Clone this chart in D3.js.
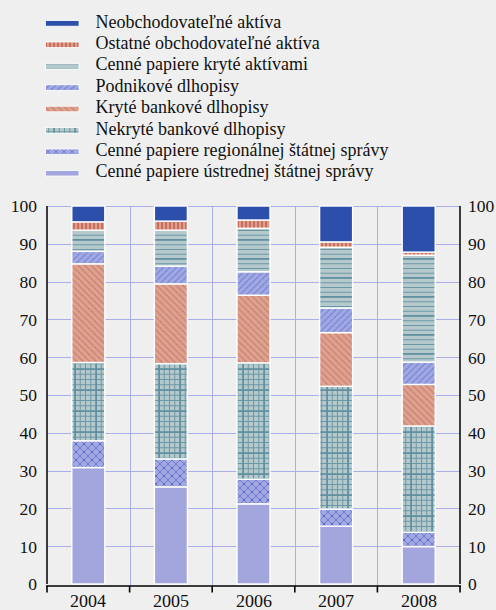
<!DOCTYPE html>
<html>
<head>
<meta charset="utf-8">
<script src="https://cdn.jsdelivr.net/npm/d3@7"></script>
<style>
  @font-face { font-family: "ChartSerif"; src: local("Liberation Serif"), local("LiberationSerif"), local("Liberation Serif Regular"); }
  html, body { margin: 0; padding: 0; background: #efefef; }
  svg { display: block; }
  .yr { font-family: "ChartSerif", "Liberation Serif"; }
</style>
</head>
<body>
<svg id="chart" width="496" height="610"></svg>
<script>
// Years on the x axis
const years = ["2004", "2005", "2006", "2007", "2008"];

// Share of each asset type (%) per year, listed bottom-to-top in the stack
const ustredna   = [30.8, 25.7, 21.2, 15.3, 9.9];
const regionalna = [7.1, 7.4, 6.5, 4.5, 3.8];
const nekryte    = [20.7, 25.2, 30.8, 32.5, 28.1];
const kryte      = [26.1, 21.1, 17.9, 14.2, 11.0];
const podnikove  = [3.3, 4.7, 6.2, 6.5, 5.9];
const krytAktiva = [5.6, 9.5, 11.5, 16.1, 28.3];
const ostatne    = [2.2, 2.4, 2.2, 1.4, 0.8];
const neobch     = [4.2, 4.0, 3.7, 9.5, 12.2];

// Series names, in legend order (top to bottom)
const seriesNames = [
  "Neobchodovateľné aktíva",
  "Ostatné obchodovateľné aktíva",
  "Cenné papiere kryté aktívami",
  "Podnikové dlhopisy",
  "Kryté bankové dlhopisy",
  "Nekryté bankové dlhopisy",
  "Cenné papiere regionálnej štátnej správy",
  "Cenné papiere ústrednej štátnej správy"
];

const yTicks = [0, 10, 20, 30, 40, 50, 60, 70, 80, 90, 100];

// Stack order, bottom first
const keys = ["ustr", "reg", "nekr", "kryt", "podn", "cka", "ost", "neob"];
const seriesValues = {
  ustr: ustredna, reg: regionalna, nekr: nekryte, kryt: kryte,
  podn: podnikove, cka: krytAktiva, ost: ostatne, neob: neobch
};
const legendKeys = ["neob", "ost", "cka", "podn", "kryt", "nekr", "reg", "ustr"];

const table = years.map((yr, i) => {
  const row = { year: yr };
  keys.forEach(k => row[k] = seriesValues[k][i]);
  return row;
});

const TEXT_COLOR = "#111";

const svg = d3.select("#chart");
const defs = svg.append("defs");

// ---- fill patterns ----
function pattern(id, w, h, base, transform) {
  const p = defs.append("pattern").attr("id", id)
    .attr("patternUnits", "userSpaceOnUse")
    .attr("width", w).attr("height", h);
  if (transform) p.attr("patternTransform", transform);
  p.append("rect").attr("width", w).attr("height", h).attr("fill", base);
  return p;
}

// solid fills
pattern("p-neob", 4, 4, "#2c4fab");
pattern("p-ustr", 4, 4, "#a3a6dc");

// vertical red stripes
pattern("p-ost", 4, 4, "#dca18d")
  .append("rect").attr("x", 1.5).attr("y", 0).attr("width", 1.1).attr("height", 4).attr("fill", "#b8463a");

// horizontal teal stripes with a heavier one
{
  const p = pattern("p-cka", 4, 19, "#b5c9cd");
  [2, 6.75, 16.25].forEach(y => p.append("rect").attr("x", 0).attr("y", y).attr("width", 4).attr("height", 1).attr("fill", "#6b98a5"));
  p.append("rect").attr("x", 0).attr("y", 11).attr("width", 4).attr("height", 1.8).attr("fill", "#6190a0");
}

// "/" diagonals
pattern("p-podn", 4.6, 4.6, "#a2a8e2", "rotate(45)")
  .append("line").attr("x1", 1).attr("y1", 0).attr("x2", 1).attr("y2", 4.6)
  .attr("stroke", "#4a64c8").attr("stroke-width", 0.9).attr("stroke-dasharray", "1.6,0.7");

// "\" diagonals, dotted red
pattern("p-kryt", 4.6, 4.6, "#dca390", "rotate(-45)")
  .append("line").attr("x1", 1).attr("y1", 0).attr("x2", 1).attr("y2", 4.6)
  .attr("stroke", "#c0504a").attr("stroke-width", 0.9).attr("stroke-dasharray", "1,0.6");

// teal grid with a heavier line
{
  const p = pattern("p-nekr", 21, 21, "#b5c9cd");
  [1, 6.25, 16.75].forEach(v => {
    p.append("rect").attr("x", v).attr("y", 0).attr("width", 1).attr("height", 21).attr("fill", "#6b98a5");
    p.append("rect").attr("x", 0).attr("y", v).attr("width", 21).attr("height", 1).attr("fill", "#6b98a5");
  });
  p.append("rect").attr("x", 11.2).attr("y", 0).attr("width", 1.8).attr("height", 21).attr("fill", "#6190a0");
  p.append("rect").attr("x", 0).attr("y", 11.2).attr("width", 21).attr("height", 1.8).attr("fill", "#6190a0");
}

// diamond crosshatch
{
  const p = pattern("p-reg", 8, 8, "#a3a8e0");
  p.append("path").attr("d", "M0,0 L8,8 M0,8 L8,0")
    .attr("stroke", "#6676d2").attr("stroke-width", 0.9).attr("fill", "none");
  p.append("circle").attr("cx", 4).attr("cy", 4).attr("r", 0.8).attr("fill", "#3a56c4");
}

const fillOf = k => `url(#p-${k})`;

// ---- scales ----
const x = d3.scaleBand().domain(years).range([47, 460]).paddingInner(0.6).paddingOuter(0.3);
const y = d3.scaleLinear().domain([0, 100]).range([584, 206]);
const step = x.step();
const boundaries = d3.range(years.length + 1).map(i => 47 + i * step);

// ---- grid ----
const grid = svg.append("g").attr("stroke", "#a9ade8").attr("stroke-width", 1);
grid.selectAll("line.h").data(yTicks.filter(t => t > 0)).join("line")
  .attr("x1", 47).attr("x2", 460)
  .attr("y1", d => Math.round(y(d)) + 0.5).attr("y2", d => Math.round(y(d)) + 0.5);
grid.selectAll("line.v").data(boundaries.slice(1, -1)).join("line")
  .attr("x1", d => Math.round(d) + 0.5).attr("x2", d => Math.round(d) + 0.5)
  .attr("y1", y(100)).attr("y2", y(0) + 2);

// ---- stacked bars ----
const stacked = d3.stack().keys(keys)(table);
svg.append("g").selectAll("g").data(stacked).join("g")
  .attr("fill", d => fillOf(d.key))
  .selectAll("rect").data(d => d).join("rect")
  .attr("x", d => x(d.data.year))
  .attr("width", x.bandwidth())
  .attr("y", d => y(d[1]))
  .attr("height", d => y(d[0]) - y(d[1]))
  .attr("stroke", "#ffffff").attr("stroke-width", 1.4);

// ---- axes ----
const axisColor = "#000";
svg.append("line").attr("x1", 47).attr("x2", 47).attr("y1", y(100)).attr("y2", y(0))
  .attr("stroke", axisColor).attr("stroke-width", 1.5);
svg.append("line").attr("x1", 460).attr("x2", 460).attr("y1", y(100)).attr("y2", y(0))
  .attr("stroke", axisColor).attr("stroke-width", 1.5);

// tick labels on both sides
const labelsL = svg.append("g").selectAll("text").data(yTicks).join("text")
  .attr("x", 37).attr("y", d => y(d)).attr("dy", "0.36em")
  .attr("text-anchor", "end");
const labelsR = svg.append("g").selectAll("text").data(yTicks).join("text")
  .attr("x", 468).attr("y", d => y(d)).attr("dy", "0.36em")
  .attr("text-anchor", "start");
[labelsL, labelsR].forEach(s => s
  .attr("font-family", "Liberation Serif").attr("font-size", 17.5)
  .attr("fill", TEXT_COLOR)
  .text(d => d));

// bottom axis: baseline with ticks on category boundaries
const xAxis = svg.append("g");
xAxis.append("line").attr("x1", 46).attr("x2", 461).attr("y1", 586).attr("y2", 586)
  .attr("stroke", axisColor).attr("stroke-width", 1.4);
xAxis.selectAll("line.tick").data(boundaries).join("line")
  .attr("x1", d => d).attr("x2", d => d).attr("y1", 586).attr("y2", 592.5)
  .attr("stroke", axisColor).attr("stroke-width", 1.6);
xAxis.selectAll("text").data(years).join("text")
  .attr("class", "yr")
  .attr("x", d => x(d) + x.bandwidth() / 2).attr("y", 606.5)
  .attr("text-anchor", "middle").attr("font-size", 17.5)
  .attr("fill", TEXT_COLOR)
  .text(d => d);

// ---- legend ----
const legend = svg.append("g");
const rows = legend.selectAll("g").data(legendKeys).join("g")
  .attr("transform", (d, i) => `translate(0,${23.3 + i * 21.4})`);
rows.append("rect").attr("x", 45.5).attr("y", -2.7).attr("width", 33.5).attr("height", 5.6)
  .attr("fill", d => fillOf(d)).attr("stroke", "#ffffff").attr("stroke-width", 0.8);
rows.append("text").attr("x", 95.5).attr("y", 4.2)
  .attr("font-size", 18)
  .style("font-family", d => "'Liberation Serif', monospace")
  .attr("fill", TEXT_COLOR)
  .text((d, i) => seriesNames[i]);
</script>
</body>
</html>
